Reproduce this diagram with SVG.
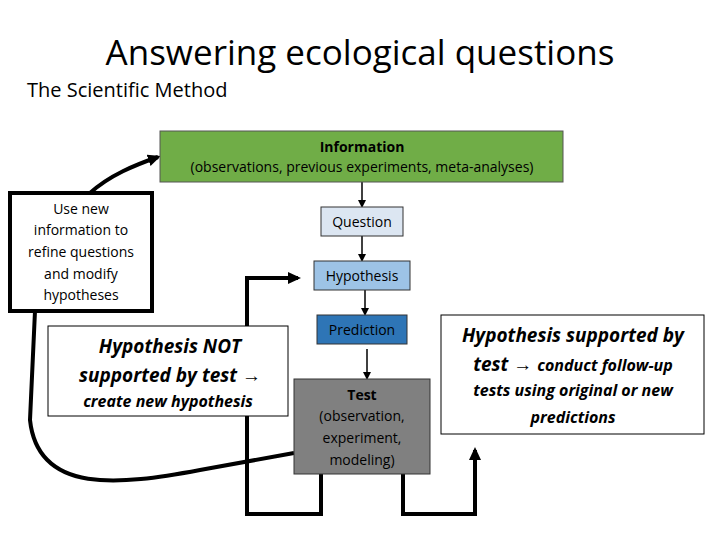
<svg xmlns="http://www.w3.org/2000/svg" width="720" height="540" viewBox="0 0 720 540">
<style>
text{font-family:"Open Sans","Liberation Sans",sans-serif;fill:#000}
.s{font-size:14px;text-anchor:middle}
.b{font-weight:bold}
.i{font-style:italic;font-weight:bold;text-anchor:middle}
.thin{stroke:#000;stroke-width:1.5;fill:none}
.thick{stroke:#000;stroke-width:4;fill:none}
</style>
<defs>
<marker id="a" markerWidth="8" markerHeight="8" refX="6" refY="4" orient="auto" markerUnits="userSpaceOnUse"><path d="M0,0 L8,4 L0,8z"/></marker>
<marker id="A" markerWidth="14" markerHeight="14" refX="10" refY="7" orient="auto" markerUnits="userSpaceOnUse"><path d="M0,1 L13,7 L0,13z"/></marker>
</defs>
<rect width="720" height="540" fill="#fff"/>
<text x="360" y="65" font-size="35" text-anchor="middle">Answering ecological questions</text>
<text x="27" y="97" font-size="20">The Scientific Method</text>
<g id="connectors">
<path class="thin" d="M362,182 V206" marker-end="url(#a)"/>
<path class="thin" d="M362,236 V260" marker-end="url(#a)"/>
<path class="thin" d="M365,290 V314" marker-end="url(#a)"/>
<path class="thin" d="M367,349 V378" marker-end="url(#a)"/>
<path class="thick" d="M321,474 V514 H247 V278 H298" marker-end="url(#A)"/>
<path class="thick" d="M403,474 V514 H475 V450" marker-end="url(#A)"/>
<path class="thick" d="M294,453 L200,470 C120,485 38,495 30,420 L35,311"/>
<path class="thick" d="M90,193 C110,175 135,165 158,157" marker-end="url(#A)"/>
</g>
<g id="info"><rect x="160" y="131" width="403" height="51" fill="#70ad47" stroke="#555"/>
<text class="s b" x="362" y="152">Information</text><text class="s" x="362" y="172">(observations, previous experiments, meta-analyses)</text></g>
<g id="question"><rect x="321" y="207" width="82" height="29" fill="#dce6f2" stroke="#333"/><text class="s" x="362" y="227">Question</text></g>
<g id="hypothesis"><rect x="314" y="261" width="96" height="29" fill="#9dc3e6" stroke="#333"/><text class="s" x="362" y="281">Hypothesis</text></g>
<g id="prediction"><rect x="317" y="315" width="90" height="29" fill="#2e75b6" stroke="#333"/><text class="s" x="362" y="335">Prediction</text></g>
<g id="test"><rect x="294" y="379" width="136" height="95" fill="#808080" stroke="#333"/>
<text class="s b" x="362" y="400">Test</text><text class="s" x="362" y="421">(observation,</text><text class="s" x="362" y="443">experiment,</text><text class="s" x="362" y="465">modeling)</text></g>
<g id="usenew"><rect x="10" y="193" width="142" height="118" fill="#fff" stroke="#000" stroke-width="4"/>
<text class="s" x="81" y="214">Use new</text><text class="s" x="81" y="235">information to</text><text class="s" x="81" y="257">refine questions</text><text class="s" x="81" y="279">and modify</text><text class="s" x="81" y="300">hypotheses</text></g>
<g id="notsupported"><rect x="48" y="326" width="240" height="90" fill="#fff" stroke="#000"/>
<text class="i" x="170" y="353" font-size="19">Hypothesis NOT</text><text class="i" x="170" y="382" font-size="19">supported by test →</text><text class="i" x="168" y="407" font-size="16">create new hypothesis</text></g>
<g id="supported"><rect x="441" y="315" width="263" height="119" fill="#fff" stroke="#000"/>
<text class="i" x="573" y="342" font-size="19">Hypothesis supported by</text><text x="573" y="371" class="i"><tspan font-size="19">test → </tspan><tspan font-size="16">conduct follow-up</tspan></text><text class="i" x="573" y="396" font-size="16">tests using original or new</text><text class="i" x="573" y="423" font-size="16">predictions</text></g>
</svg>
